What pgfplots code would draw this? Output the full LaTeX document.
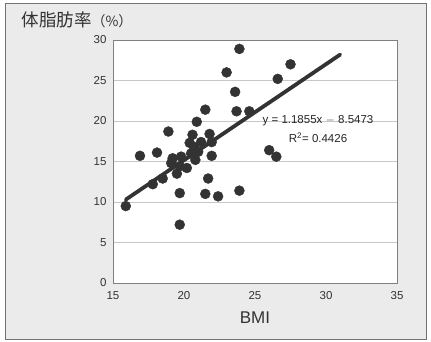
\documentclass[border=0pt]{standalone}
\usepackage{pgfplots}
\pgfplotsset{compat=1.18}
\usepackage{fontspec}
\setmainfont{Liberation Sans}
\newfontfamily\cjk{Noto Sans CJK JP}
\definecolor{dot}{HTML}{333333}
\definecolor{bg}{HTML}{EBEBEB}
\begin{document}
\begin{tikzpicture}[x=1pt,y=1pt]
\path[use as bounding box, fill=white] (-113,-58) rectangle (318,283);
\draw[fill=bg, draw=black!55, line width=1pt] (-107,-56) rectangle (313,280);
\begin{axis}[
  at={(0,0)}, anchor=south west,
  scale only axis, width=284pt, height=243pt,
  xmin=15, xmax=35, ymin=0, ymax=30,
  xtick={15,20,...,35}, ytick={0,5,...,30},
  ymajorgrids, grid style={black!22, line width=0.6pt},
  axis line style={black!50, line width=1pt},
  major tick length=0pt,
  axis background/.style={fill=white},
  /pgf/number format/assume math mode=true,
  tick label style={font=\fontsize{11.5}{13}\selectfont, text=black!80},
  xticklabel style={yshift=-5pt},
  yticklabel style={xshift=-3pt},
  clip=false,
]
\addplot[only marks, mark=*, mark size=5pt, mark options={fill=dot, draw=dot}] coordinates {
(15.9,9.5) (16.9,15.7) (18.1,16.1) (17.8,12.2) (18.5,12.9) (18.9,18.7)
(19.2,15.4) (19.8,15.6) (19.1,14.8) (19.7,14.4) (20.2,14.2) (19.5,13.5)
(19.7,11.1) (19.7,7.2) (20.5,16.0) (20.6,18.3) (20.7,16.8) (20.9,19.9)
(21.0,16.2) (20.8,15.2) (21.2,17.4) (21.5,21.4) (21.8,18.4) (21.95,17.4)
(21.95,15.7) (21.7,12.9) (21.5,11.0) (22.4,10.7) (23.0,26.0) (23.9,28.9)
(23.6,23.6) (23.7,21.2) (24.6,21.2) (23.9,11.4) (26.0,16.4) (26.5,15.6)
(26.6,25.2) (27.5,27.0) (20.4,17.3)
};
\addplot[dot, line width=3.8pt, line cap=round] coordinates {(15.9,10.30) (31.0,28.20)};
\end{axis}
\node[anchor=west, text=black!80] at (-95,263) {\cjk\fontsize{17.5}{20}\selectfont 体脂肪率\fontsize{14}{16}\selectfont（\%）};
\node[text=black!80] at (142,-35) {\fontsize{17}{20}\selectfont BMI};
\node[text=black!85] at (205,162) {\fontsize{11.5}{13}\selectfont y = 1.1855x $-$ 8.5473};
\node[text=black!85] at (205,145) {\fontsize{11.5}{13}\selectfont R\textsuperscript{2}= 0.4426};
\end{tikzpicture}
\end{document}
